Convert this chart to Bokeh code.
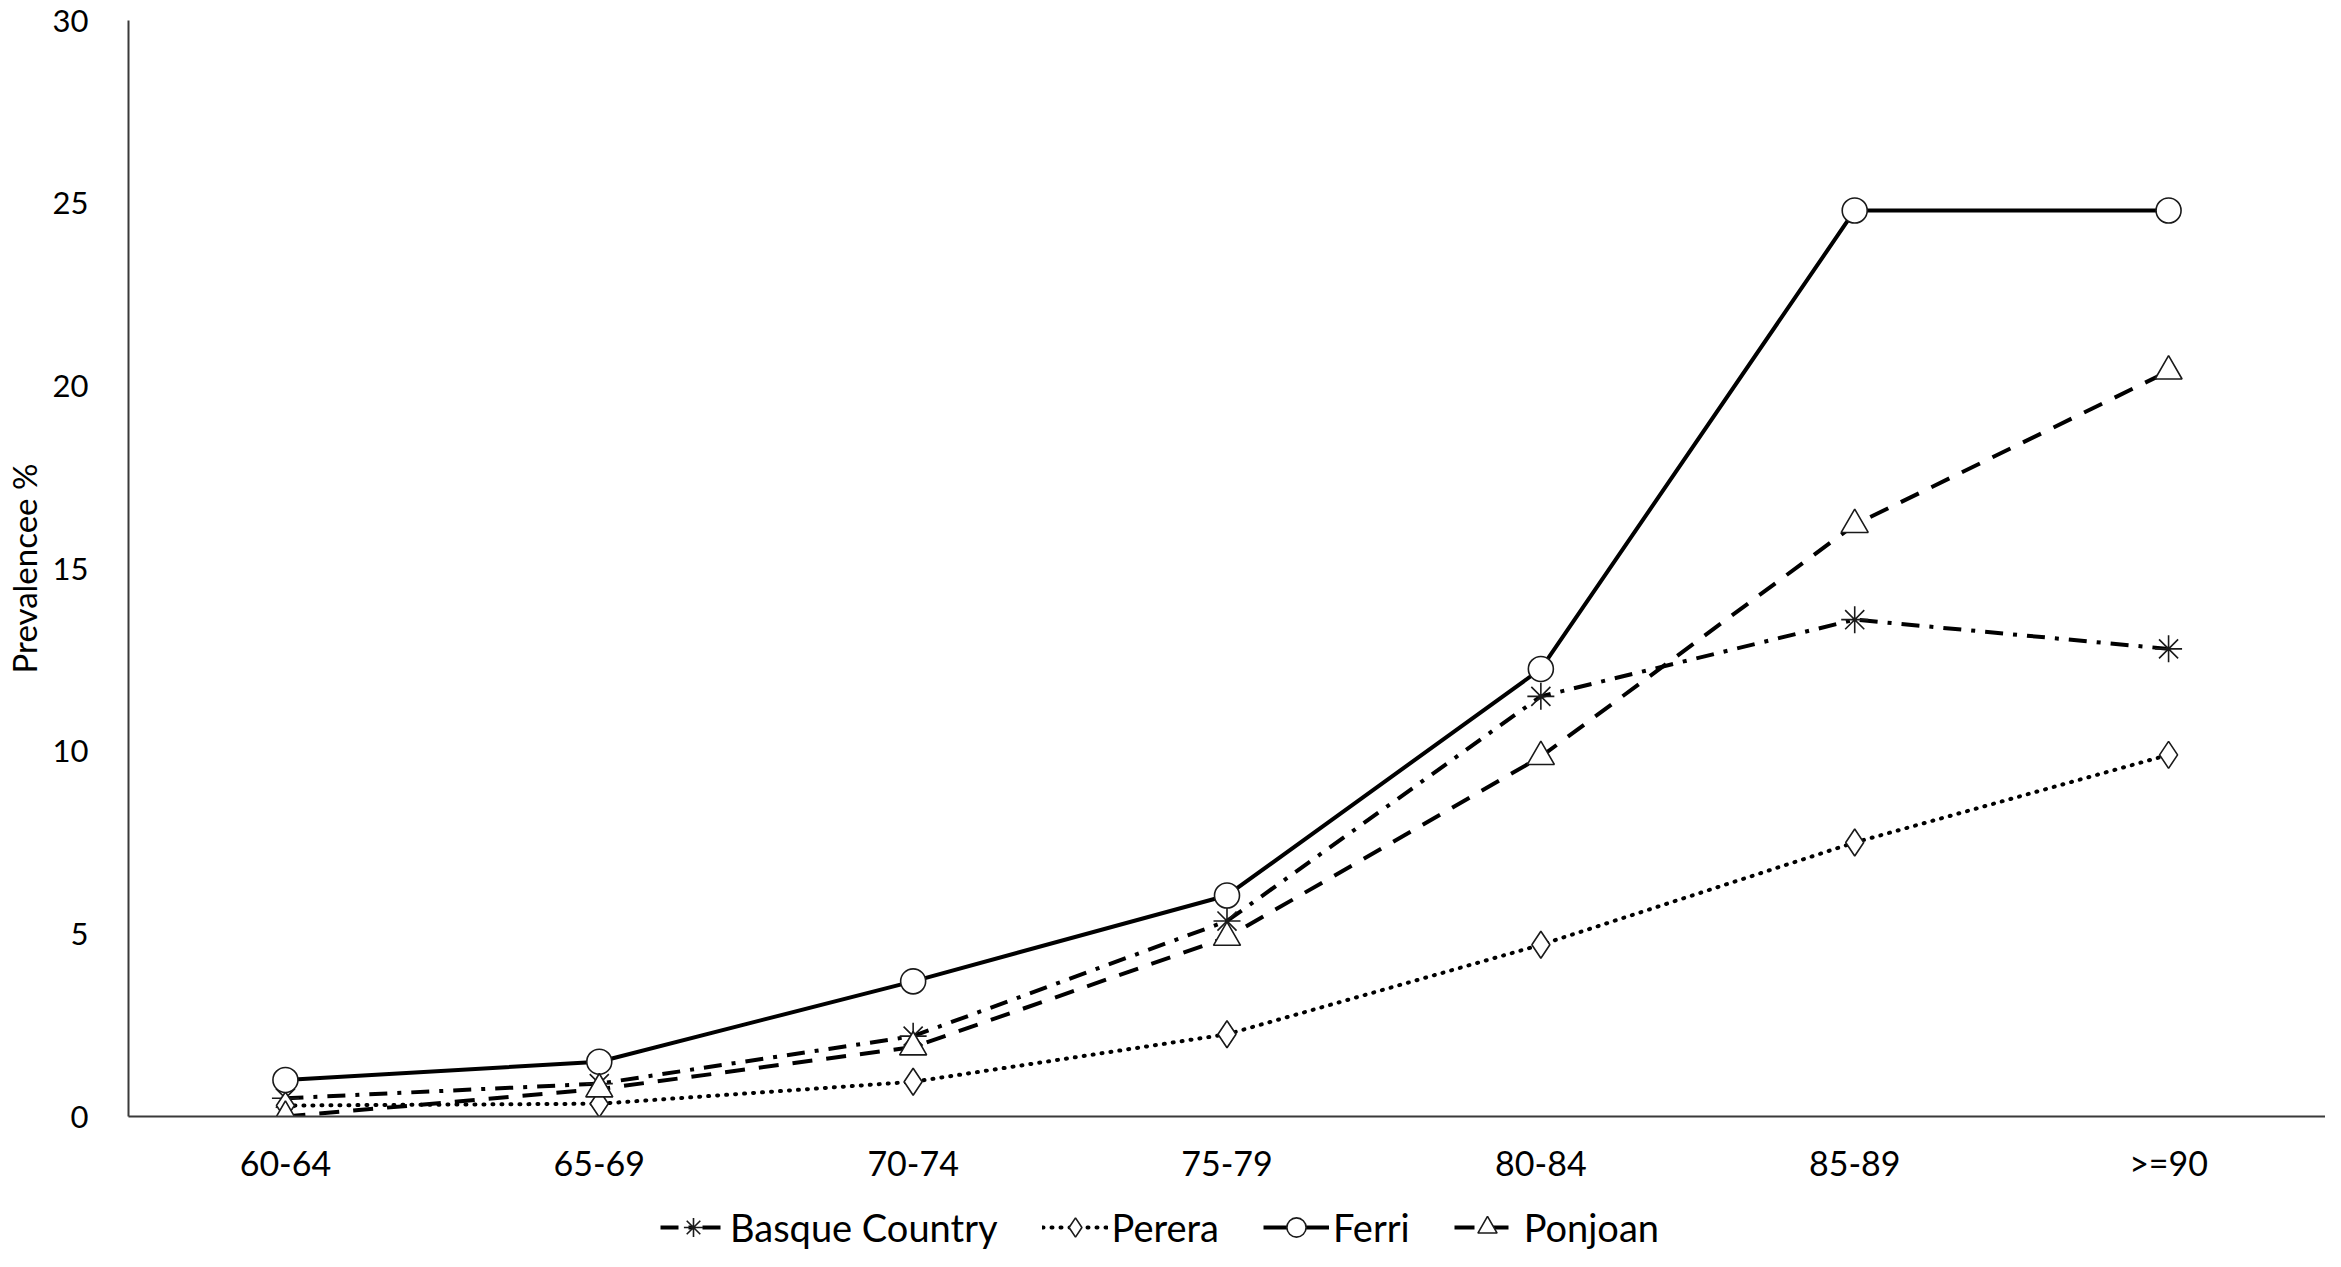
from bokeh.plotting import figure
from bokeh.layouts import column
from bokeh.models import Legend, LegendItem, FixedTicker, FactorRange, Range1d
from bokeh.embed import file_html
from bokeh.resources import INLINE

categories = ["60-64", "65-69", "70-74", "75-79", "80-84", "85-89", ">=90"]
basque = [0.5, 0.9, 2.2, 5.35, 11.5, 13.6, 12.8]
perera = [0.3, 0.35, 0.95, 2.25, 4.7, 7.5, 9.9]
ferri = [1.0, 1.5, 3.7, 6.05, 12.25, 24.8, 24.8]
ponjoan = [0.0, 0.75, 1.9, 4.9, 9.85, 16.2, 20.4]
series_names = ["Basque Country", "Perera", "Ferri", "Ponjoan"]
y_ticks = [0, 5, 10, 15, 20, 25, 30]

FONT = "Lato"

p = figure(width=2325, height=1193, x_range=FactorRange(*categories, range_padding=0),
           y_range=Range1d(0, 30), output_backend="svg", toolbar_location=None,
           min_border_left=120, min_border_right=0, min_border_top=20, min_border_bottom=77)
p.outline_line_color = None
p.xgrid.grid_line_color = None
p.ygrid.grid_line_color = None

styles = [
    ("asterisk", 27, "18 10 4 10", 4, "butt"),
    ("diamond", 27, "1 8", 4, "round"),
    ("circle", 25, "solid", 4, "butt"),
    ("triangle", 27, "20 14", 4, "butt"),
]
values = [basque, perera, ferri, ponjoan]

for vals, (marker, size, dash, lw, cap) in zip(values, styles):
    p.line(categories, vals, line_color="black", line_width=lw, line_dash=dash, line_cap=cap)
    p.scatter(categories, vals, marker=marker, size=size, fill_color="white",
              line_color="#1a1a1a", line_width=1.6)

p.yaxis.ticker = FixedTicker(ticks=y_ticks)
for ax in (p.xaxis, p.yaxis):
    ax.major_tick_line_color = None
    ax.minor_tick_line_color = None
    ax.axis_line_color = "#3a3a3a"
    ax.axis_line_width = 2
    ax.major_label_text_font = FONT
    ax.major_label_text_color = "black"
p.xaxis.major_label_text_font_size = "34px"
p.xaxis.major_label_standoff = 19
p.yaxis.major_label_text_font_size = "31px"
p.yaxis.major_label_standoff = 34
p.yaxis.axis_label = "Prevalencee %"
p.yaxis.axis_label_text_font = FONT
p.yaxis.axis_label_text_color = "black"
p.yaxis.axis_label_text_font_style = "normal"
p.yaxis.axis_label_text_font_size = "33px"
p.yaxis.axis_label_standoff = 6

# legend strip below the chart; its renderers hold the same series but lie outside its view
lf = figure(width=2325, height=58, output_backend="svg", toolbar_location=None,
            x_range=FactorRange(*categories, range_padding=0), y_range=Range1d(-200, -100),
            x_axis_location=None, y_axis_location=None,
            min_border_left=0, min_border_right=0, min_border_top=0, min_border_bottom=0)
lf.outline_line_color = None
lf.xgrid.grid_line_color = None
lf.ygrid.grid_line_color = None
items = []
for name, vals, (marker, size, dash, lw, cap) in zip(series_names, values, styles):
    lr = lf.line(categories, vals, line_color="black", line_width=lw, line_dash=dash, line_cap=cap)
    mr = lf.scatter(categories, vals, marker=marker, size=size, fill_color="white",
                    line_color="#1a1a1a", line_width=1.6)
    items.append(LegendItem(label=name, renderers=[lr, mr]))
legend = Legend(items=items, orientation="horizontal", location=(532, 0),
                label_text_font=FONT, label_text_font_size="38px", label_text_color="black",
                glyph_width=66, glyph_height=48, label_height=40, spacing=44, padding=0, margin=0,
                label_standoff=4, border_line_color=None, background_fill_alpha=0)
lf.add_layout(legend, "center")

layout = column(p, lf, spacing=0)
open("out.html", "w").write(file_html(layout, INLINE))
